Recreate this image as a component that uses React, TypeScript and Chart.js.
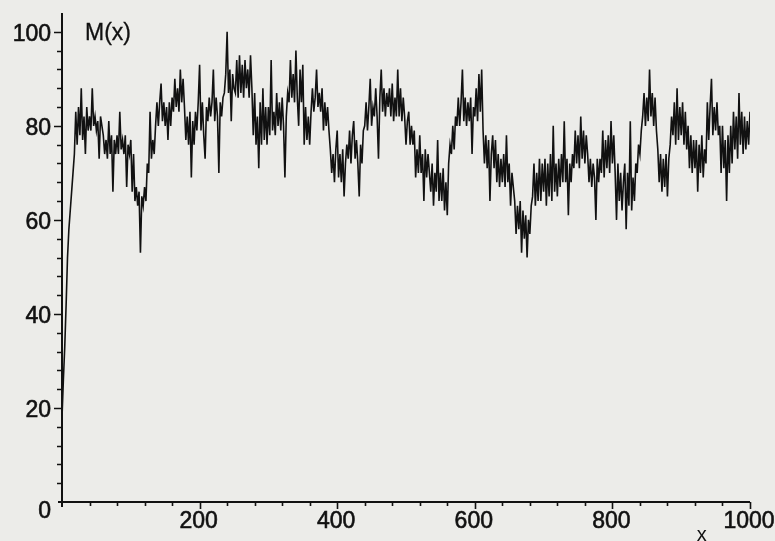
import React, { useEffect, useRef } from "react";
import { Chart, registerables } from "chart.js";

Chart.register(...registerables);

// sampling step of the series along x
const STEP = 2;

// M(x), one value every STEP units from x = 0 to x = 1000
const M_VALUES = [
  18, 26, 33, 42, 52, 58, 62, 66, 70, 74, 83, 76, 84, 78, 88, 77, 82, 74, 84, 79,
  82, 79, 88, 80, 82, 79, 81, 73, 82, 80, 78, 74, 77, 73, 81, 74, 78, 66, 77, 74,
  78, 74, 83, 75, 77, 74, 78, 67, 76, 74, 77, 66, 74, 64, 67, 63, 66, 53, 65, 63,
  67, 64, 72, 70, 83, 73, 77, 74, 80, 85, 80, 85, 89, 81, 85, 80, 84, 77, 85, 80,
  86, 83, 90, 84, 88, 83, 92, 85, 90, 84, 77, 82, 76, 83, 69, 81, 76, 83, 79, 85,
  93, 79, 85, 78, 73, 84, 81, 86, 82, 85, 92, 81, 86, 82, 70, 85, 82, 86, 87, 91,
  100, 87, 92, 81, 91, 88, 87, 94, 86, 95, 87, 93, 86, 94, 88, 92, 86, 95, 88, 78,
  87, 76, 82, 71, 85, 76, 88, 77, 84, 76, 84, 78, 94, 79, 83, 78, 87, 80, 85, 79,
  86, 80, 69, 82, 87, 85, 94, 86, 91, 85, 96, 86, 80, 92, 85, 93, 76, 84, 77, 82,
  76, 83, 88, 83, 86, 92, 84, 87, 83, 88, 79, 85, 80, 84, 79, 75, 70, 74, 68, 75,
  79, 69, 74, 68, 75, 65, 72, 76, 73, 79, 72, 78, 81, 73, 77, 72, 65, 76, 72, 79,
  80, 85, 79, 84, 90, 80, 84, 82, 88, 82, 73, 86, 92, 83, 88, 82, 87, 84, 88, 82,
  89, 81, 86, 82, 92, 82, 88, 81, 86, 82, 76, 81, 83, 76, 80, 76, 79, 69, 75, 70,
  78, 70, 74, 64, 75, 69, 74, 70, 66, 72, 63, 70, 66, 77, 64, 70, 64, 71, 62, 68,
  61, 72, 76, 74, 80, 75, 82, 80, 86, 80, 85, 92, 81, 86, 80, 85, 81, 86, 74, 84,
  82, 88, 81, 91, 83, 92, 79, 72, 78, 71, 77, 64, 74, 78, 71, 77, 68, 74, 67, 73,
  68, 74, 67, 78, 68, 72, 63, 70, 67, 64, 57, 63, 58, 64, 53, 62, 56, 61, 52, 60,
  57, 63, 65, 72, 63, 70, 64, 73, 64, 72, 66, 73, 63, 72, 65, 74, 64, 80, 66, 72,
  65, 73, 67, 74, 68, 81, 68, 73, 61, 72, 68, 74, 71, 79, 72, 78, 71, 82, 73, 79,
  72, 78, 74, 68, 73, 67, 72, 69, 60, 73, 68, 73, 70, 79, 69, 77, 71, 78, 70, 81,
  72, 78, 70, 60, 72, 64, 70, 62, 68, 72, 58, 70, 63, 81, 62, 69, 64, 72, 70, 76,
  74, 79, 82, 87, 80, 86, 81, 92, 82, 87, 80, 86, 79, 75, 68, 74, 66, 73, 67, 74,
  65, 73, 76, 82, 78, 85, 76, 88, 77, 84, 78, 85, 76, 83, 75, 80, 71, 78, 70, 77,
  71, 77, 66, 76, 70, 78, 69, 75, 72, 85, 77, 84, 90, 78, 84, 79, 85, 78, 80, 70,
  80, 71, 77, 64, 78, 70, 80, 72, 83, 75, 82, 73, 87, 76, 83, 74, 82, 75, 81, 76,
  83,
];

const X_MAJOR_TICKS = [200, 400, 600, 800, 1000];
const X_MINOR_STEP = 40;
const Y_MAJOR_TICKS = [0, 20, 40, 60, 80, 100];
const Y_MINOR_STEP = 4;
const X_MIN = 0;
const X_MAX = 1000;
const Y_MIN = 0;
const Y_MAX = 104;
const Y_TITLE = "M(x)";
const X_TITLE = "x";

const FONT = '23px "Liberation Sans", Arial, sans-serif';
const INK = "#111111";

function heavyText(ctx: CanvasRenderingContext2D, s: string, x: number, y: number) {
  ctx.fillText(s, x, y);
  ctx.strokeText(s, x, y);
}

const axesPlugin = {
  id: "maple-axes",
  beforeDraw(chart: any) {
    const { ctx, width, height } = chart;
    ctx.save();
    ctx.fillStyle = "#ecece9";
    ctx.fillRect(0, 0, width, height);
    ctx.restore();
  },
  afterDraw(chart: any) {
    const { ctx } = chart;
    const xs = chart.scales.x;
    const ys = chart.scales.y;
    const x0 = xs.getPixelForValue(0);
    const y0 = ys.getPixelForValue(0);
    ctx.save();
    ctx.strokeStyle = INK;
    ctx.fillStyle = INK;
    // axis lines
    ctx.lineWidth = 2;
    ctx.beginPath();
    ctx.moveTo(x0, ys.getPixelForValue(Y_MAX));
    ctx.lineTo(x0, y0 + 5);
    ctx.moveTo(x0 - 4, y0);
    ctx.lineTo(xs.getPixelForValue(X_MAX), y0);
    ctx.stroke();

    // y ticks
    ctx.lineWidth = 1.6;
    ctx.beginPath();
    for (let v = Y_MIN + Y_MINOR_STEP; v <= 100; v += Y_MINOR_STEP) {
      const p = Math.round(ys.getPixelForValue(v)) + 0.5;
      const major = Y_MAJOR_TICKS.includes(v);
      ctx.moveTo(x0 - (major ? 8 : 5), p);
      ctx.lineTo(x0, p);
    }
    // x ticks
    for (let v = X_MINOR_STEP; v <= X_MAX; v += X_MINOR_STEP) {
      const p = Math.round(xs.getPixelForValue(v)) + 0.5;
      const major = X_MAJOR_TICKS.includes(v);
      ctx.moveTo(p, y0);
      ctx.lineTo(p, y0 + (major ? 7 : 4));
    }
    ctx.stroke();

    // labels
    ctx.font = FONT;
    ctx.lineWidth = 0.6;
    ctx.textAlign = "right";
    ctx.textBaseline = "middle";
    for (const v of Y_MAJOR_TICKS) {
      const p = ys.getPixelForValue(v);
      heavyText(ctx, String(v), x0 - 11, p + (v === 0 ? 10 : 3));
    }
    ctx.textAlign = "center";
    for (const v of X_MAJOR_TICKS) {
      heavyText(ctx, String(v), xs.getPixelForValue(v) - 1, y0 + 20);
    }
    ctx.textAlign = "left";
    ctx.lineWidth = 0.3;
    heavyText(ctx, Y_TITLE, x0 + 23, ys.getPixelForValue(100) + 2);
    ctx.font = '20px "Liberation Sans", Arial, sans-serif';
    ctx.textAlign = "center";
    ctx.fillText(X_TITLE, xs.getPixelForValue(930), y0 + 33);
    ctx.restore();
  },
};

export default function App() {
  const ref = useRef<HTMLCanvasElement | null>(null);
  useEffect(() => {
    if (!ref.current) return;
    const points = M_VALUES.map((y, i) => ({ x: X_MIN + i * STEP, y }));
    const chart = new Chart(ref.current, {
      type: "line",
      data: {
        datasets: [
          {
            data: points,
            borderColor: INK,
            borderWidth: 1.6,
            pointRadius: 0,
            tension: 0,
            fill: false,
          },
        ],
      },
      options: {
        animation: false,
        responsive: false,
        devicePixelRatio: 1,
        layout: { padding: { left: 62, right: 25, top: 13, bottom: 39 } },
        plugins: { legend: { display: false }, tooltip: { enabled: false } },
        scales: {
          x: { type: "linear", min: X_MIN, max: X_MAX, display: false },
          y: { type: "linear", min: Y_MIN, max: Y_MAX, display: false },
        },
      },
      plugins: [axesPlugin],
    });
    return () => chart.destroy();
  }, []);
  return (
    <div style={{ position: "fixed", left: 0, top: 0, width: 775, height: 541 }}>
      <canvas ref={ref} width={775} height={541} />
    </div>
  );
}
